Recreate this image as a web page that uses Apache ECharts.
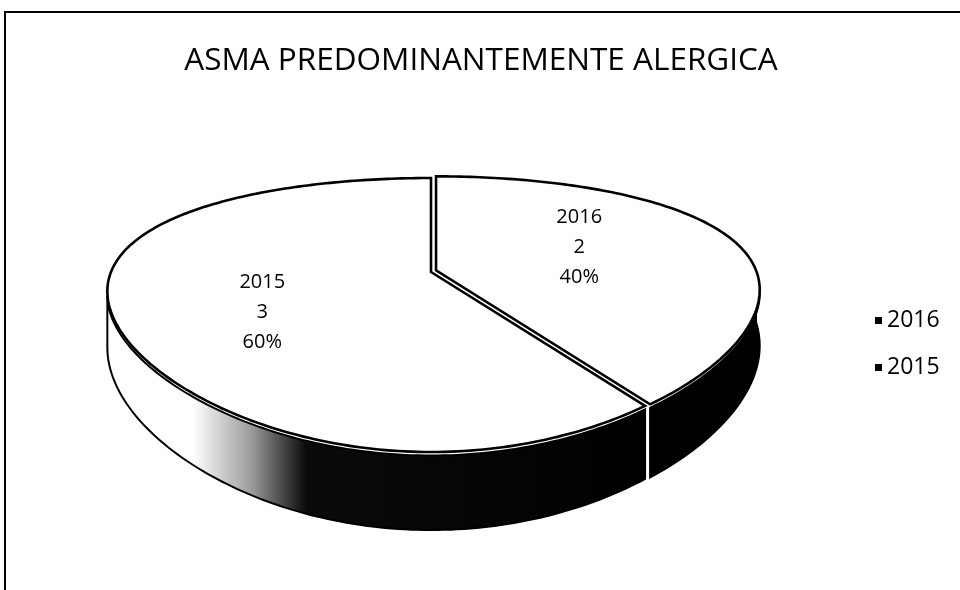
<!DOCTYPE html>
<html>
<head>
<meta charset="utf-8">
<script src="https://cdn.jsdelivr.net/npm/echarts@6/dist/echarts.min.js"></script>
<style>
  html, body { margin: 0; padding: 0; background: #fff; }
  #chart { width: 960px; height: 590px; }
</style>
</head>
<body>
<div id="chart"></div>
<script>
  // datos del grafico
  var years = ['2016', '2015']
  var counts = [2, 3]
  var percents = ['40%', '60%']

  // geometria del pastel 3D (perspectiva simple)
  var cx = 431, cy = 272, rx = 320, ry = 123.5
  var kx = 0.15, ky = 0.314
  var explode = 5.3

  var total = counts.reduce(function (a, b) { return a + b }, 0)

  function rad(d) { return d * Math.PI / 180 }

  function proj(theta, r, ox, oy) {
    var u = r * Math.sin(rad(theta))
    var v = -r * Math.cos(rad(theta))
    return [
      cx + ox + rx * u / (1 - kx * v),
      cy + oy + ry * v / (1 - ky * v)
    ]
  }

  function depth(theta) {
    var v = -Math.cos(rad(theta))
    return 52 + 26 * v
  }

  function sliceRange(idx) {
    var start = 0
    for (var i = 0; i < idx; i++) start += counts[i] / total * 360
    return [start, start + counts[idx] / total * 360]
  }

  function renderSlice(params, api) {
    var idx = params.seriesIndex
    var range = sliceRange(idx)
    var a = range[0], b = range[1]
    var mid = (a + b) / 2
    var ox = idx === 0 ? explode * Math.sin(rad(mid)) : 0
    var oy = idx === 0 ? -explode * Math.cos(rad(mid)) : 0

    var children = []

    // cara lateral visible
    var sStart = Math.acos(-kx) * 180 / Math.PI
    var sEnd = 360 - sStart
    var s0 = Math.max(a, idx === 0 ? 90 : sStart)
    var s1 = Math.min(b, sEnd)
    if (s1 > s0) {
      var top = [], bottom = []
      for (var t = s0; t <= s1 + 0.001; t += 1) {
        var p = proj(Math.min(t, s1), 1, ox, oy)
        top.push([p[0], p[1] + 3.5])
        bottom.push([p[0], p[1] + depth(t)])
      }
      var sidePts = top.concat(bottom.reverse())
      var fill = idx === 0 ? '#000' : new echarts.graphic.LinearGradient(0, 0, 1, 0, [
        { offset: 0, color: '#fff' },
        { offset: 0.16, color: '#fff' },
        { offset: 0.27, color: '#9a9a9a' },
        { offset: 0.37, color: '#0a0a0a' },
        { offset: 1, color: '#000' }
      ])
      children.push({
        type: 'polygon',
        z2: 1,
        shape: { points: sidePts },
        style: { fill: fill, stroke: '#000', lineWidth: 2 }
      })
    }

    // cara superior
    var pts = [[cx + ox, cy + oy]]
    for (var t2 = a; t2 <= b + 0.001; t2 += 1) {
      pts.push(proj(Math.min(t2, b), 1, ox, oy))
    }
    children.push({
      type: 'polygon',
      z2: 2,
      shape: { points: pts },
      style: { fill: '#fff', stroke: '#000', lineWidth: 2.6, lineJoin: 'miter' }
    })

    // etiqueta
    var lp = proj(mid - 10, 0.56, 0, 0)
    children.push({
      type: 'text',
      z2: 3,
      x: lp[0] - 4,
      y: lp[1] + 5,
      style: {
        text: years[idx] + '\n' + api.value(0) + '\n' + percents[idx],
        fill: '#000',
        font: '20px "Open Sans"',
        lineHeight: 30,
        align: 'center',
        verticalAlign: 'middle'
      }
    })

    return { type: 'group', children: children }
  }

  var chart = echarts.init(document.getElementById('chart'))

  chart.setOption({
    animation: false,
    backgroundColor: '#fff',
    title: {
      text: 'ASMA PREDOMINANTEMENTE ALERGICA',
      left: 476,
      top: 40,
      textAlign: 'center',
      textStyle: {
        fontFamily: 'Open Sans',
        fontWeight: 'normal',
        fontSize: 31.5,
        color: '#000'
      }
    },
    legend: {
      orient: 'vertical',
      left: 870,
      top: 304,
      itemWidth: 7,
      itemHeight: 7,
      itemGap: 24,
      icon: 'rect',
      data: years,
      textStyle: {
        fontFamily: 'Open Sans',
        fontSize: 23,
        color: '#000'
      }
    },
    graphic: [
      {
        type: 'rect',
        shape: { x: 5, y: 12, width: 1000, height: 700 },
        style: { fill: 'none', stroke: '#000', lineWidth: 2 },
        silent: true
      }
    ],
    series: years.map(function (y, i) {
      return {
        name: y,
        type: 'custom',
        coordinateSystem: 'none',
        itemStyle: { color: '#000' },
        renderItem: renderSlice,
        data: [counts[i]]
      }
    })
  })
</script>
</body>
</html>
